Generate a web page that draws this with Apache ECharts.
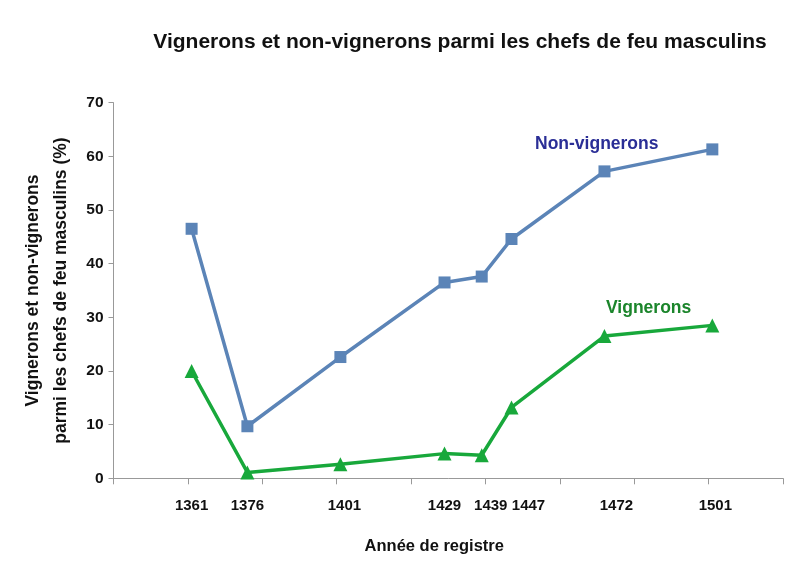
<!DOCTYPE html>
<html>
<head>
<meta charset="utf-8">
<script src="https://cdn.jsdelivr.net/npm/echarts@6/dist/echarts.min.js"></script>
<style>
  html, body { margin: 0; padding: 0; background: #fff; }
  #container { width: 800px; height: 574px; }
</style>
</head>
<body>
<div id="container"></div>
<script>
var years = [1361, 1376, 1401, 1429, 1439, 1447, 1472, 1501];
var nonVignerons = [46.5, 9.7, 22.6, 36.5, 37.6, 44.6, 57.2, 61.3];
var vignerons = [20, 1.1, 2.6, 4.6, 4.3, 13.2, 26.5, 28.5];
var tickYears = [1340, 1360, 1380, 1400, 1420, 1440, 1460, 1480, 1500, 1520];

var pairs = function (xs, ys) {
    var res = [];
    for (var i = 0; i < xs.length; i++) {
        res.push([xs[i], ys[i]]);
    }
    return res;
};

var dom = document.getElementById("container");
var myChart = echarts.init(dom);
var font = '"Liberation Sans", Arial, sans-serif';

// the original year labels were nudged right by hand, so shift a few of them
var labelNudge = { 1401: 4, 1439: 9, 1447: 17, 1472: 12, 1501: 3 };
var yearRich = {};
years.forEach(function (y) {
    var n = labelNudge[y] || 0;
    yearRich['y' + y] = {
        fontFamily: font, fontSize: 15, fontWeight: 'bold', color: '#111',
        padding: [0, 0, 0, n * 2]
    };
});

myChart.setOption({
    animation: false,
    title: {
        text: 'Vignerons et non-vignerons parmi les chefs de feu masculins',
        left: 455,
        top: 27,
        textAlign: 'center',
        textStyle: { fontFamily: font, fontSize: 21, fontWeight: 'bold', color: '#111' }
    },
    grid: { left: 113.5, right: 17, top: 102.7, bottom: 95.7 },
    xAxis: {
        type: 'value',
        min: 1340,
        max: 1520,
        interval: 20,
        name: 'Année de registre',
        nameLocation: 'middle',
        nameGap: 60,
        nameTextStyle: { fontFamily: font, fontSize: 16.5, fontWeight: 'bold', color: '#111', padding: [0, 28, 0, 0] },
        axisLine: { lineStyle: { color: '#999', width: 1 } },
        axisTick: { show: true, length: 6, customValues: tickYears, lineStyle: { color: '#999' } },
        axisLabel: {
            customValues: years,
            margin: 20,
            hideOverlap: false,
            formatter: function (v) { return '{y' + v + '|' + v + '}'; },
            rich: yearRich,
            fontFamily: font, fontSize: 15, fontWeight: 'bold', color: '#111'
        },
        splitLine: { show: false }
    },
    yAxis: {
        type: 'value',
        min: 0,
        max: 70,
        interval: 10,
        name: 'Vignerons et non-vignerons\nparmi les chefs de feu masculins (%)',
        nameLocation: 'middle',
        nameRotate: 90,
        nameGap: 38,
        nameTextStyle: { fontFamily: font, fontSize: 17.5, fontWeight: 'bold', color: '#111', lineHeight: 28 },
        axisLine: { show: true, lineStyle: { color: '#999', width: 1 } },
        axisTick: { show: true, length: 5, lineStyle: { color: '#999' } },
        axisLabel: { margin: 10, fontFamily: font, fontSize: 15.5, fontWeight: 'bold', color: '#111' },
        splitLine: { show: false }
    },
    graphic: [
        {
            type: 'text', left: 535, top: 135,
            style: { text: 'Non-vignerons', fontFamily: font, fontSize: 17.5, fontWeight: 'bold', fill: '#2a2e96' }
        },
        {
            type: 'text', left: 606, top: 299,
            style: { text: 'Vignerons', fontFamily: font, fontSize: 17.5, fontWeight: 'bold', fill: '#1b852b' }
        }
    ],
    series: [
        {
            name: 'Non-vignerons',
            type: 'line',
            data: pairs(years, nonVignerons),
            symbol: 'rect',
            symbolSize: 12,
            lineStyle: { color: '#5b84b7', width: 3.5 },
            itemStyle: { color: '#5b84b7' }
        },
        {
            name: 'Vignerons',
            type: 'line',
            data: pairs(years, vignerons),
            symbol: 'triangle',
            symbolSize: 14,
            lineStyle: { color: '#18a83b', width: 3.5 },
            itemStyle: { color: '#18a83b' }
        }
    ]
});
</script>
</body>
</html>
